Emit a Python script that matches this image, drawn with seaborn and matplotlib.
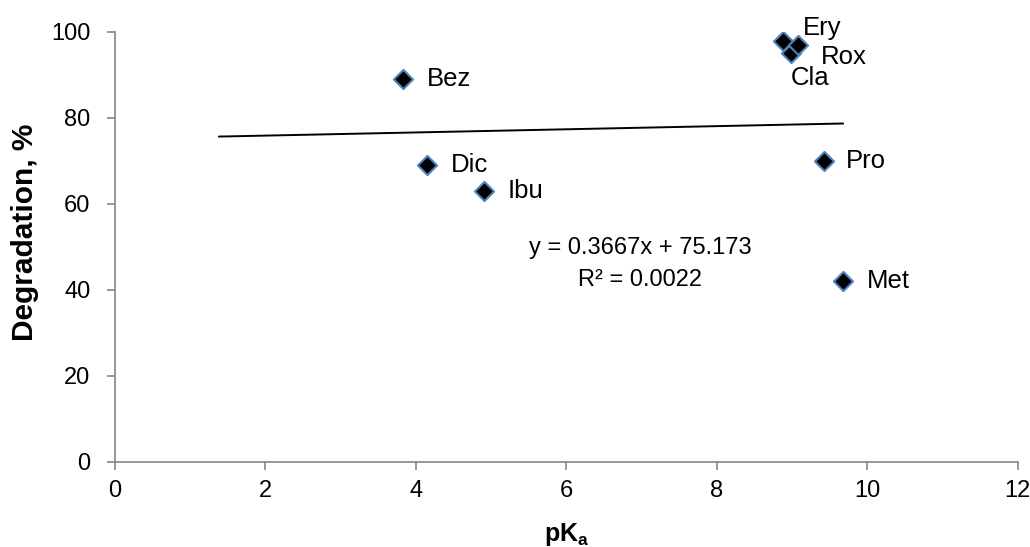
import matplotlib
matplotlib.use("Agg")
import matplotlib.pyplot as plt
import seaborn as sns
import numpy as np
import pandas as pd

# Data
compounds = ["Bez", "Dic", "Ibu", "Ery", "Cla", "Rox", "Pro", "Met"]
pka = [3.83, 4.15, 4.91, 8.88, 8.99, 9.08, 9.42, 9.68]
degradation = [89, 69, 63, 98, 95, 97, 70, 42]
# label offsets (points)
label_dx = [17, 17, 17, 14.5, 0, 16.8, 16.4, 17]
label_dy = [0, 0, 0, 9, -18, -8.5, 0, 0]

slope = 0.3667
intercept = 75.173
r2 = 0.0022
trend_start = 1.38

xticks = [0, 2, 4, 6, 8, 10, 12]
yticks = [0, 20, 40, 60, 80, 100]

df = pd.DataFrame({"compound": compounds, "pKa": pka, "deg": degradation})

sns.set_theme(style="white")
plt.rcParams["font.family"] = ["Liberation Sans", "DejaVu Sans"]
plt.rcParams["mathtext.fontset"] = "custom"
plt.rcParams["mathtext.bf"] = "Liberation Sans:bold"
plt.rcParams["mathtext.rm"] = "Liberation Sans"
plt.rcParams["text.color"] = "black"
plt.rcParams["axes.labelcolor"] = "black"

fig = plt.figure(figsize=(10.30, 5.47), dpi=100)
ax = fig.add_axes([0.1117, 0.1554, 0.8763, 0.7861])

# trendline
tx = np.array([trend_start, max(pka)])
ax.plot(tx, slope * tx + intercept, color="black", lw=1.4, zorder=2)

sns.scatterplot(data=df, x="pKa", y="deg", marker="D", s=95, color="black",
                edgecolor="#4F81BD", linewidth=1.5, ax=ax, zorder=3, legend=False)

for c, x, y, dx, dy in zip(compounds, pka, degradation, label_dx, label_dy):
    ax.annotate(c, (x, y), xytext=(dx, dy), textcoords="offset points",
                ha="left", va="center", fontsize=18.5, color="black")

ax.text(6.98, 49.8, f"y = {slope}x + {intercept}", ha="center",
        va="center", fontsize=17, color="black")
ax.text(6.98, 42.3, f"R² = {r2}", ha="center",
        va="center", fontsize=17, color="black")

ax.set_xlim(0, 12)
ax.set_ylim(0, 100)
ax.set_xticks(xticks)
ax.set_yticks(yticks)
ax.tick_params(axis="both", which="major", direction="out", length=5.8,
               width=1.2, color="#868686", labelsize=17, labelcolor="black",
               left=True, bottom=True)
ax.tick_params(axis="y", pad=12)
ax.tick_params(axis="x", pad=7)
for side in ["top", "right"]:
    ax.spines[side].set_visible(False)
for side in ["left", "bottom"]:
    ax.spines[side].set_color("#868686")
    ax.spines[side].set_linewidth(1.2)
ax.grid(False)

ax.set_xlabel(r"pK$_\mathbf{a}$", fontsize=18, fontweight="bold", color="black")
ax.set_ylabel("Degradation, %", fontsize=21.5, fontweight="bold", color="black")
ax.xaxis.set_label_coords(0.5, -0.138)
ax.yaxis.set_label_coords(-0.084, 0.533)

fig.savefig("out.png", dpi=100, facecolor="white")
